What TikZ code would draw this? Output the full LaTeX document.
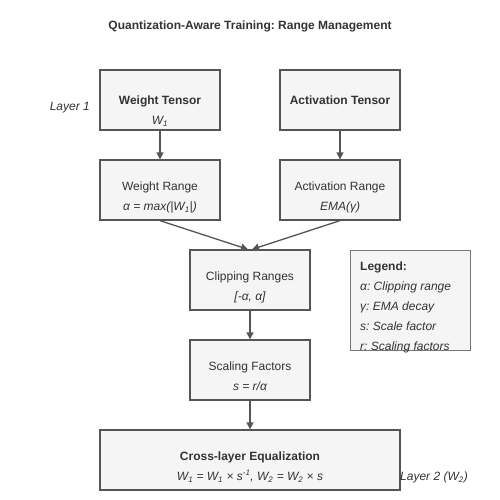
\documentclass[tikz,border=0pt]{standalone}
\usepackage{fontspec}
\setmainfont{Liberation Sans}
\usetikzlibrary{arrows.meta}
\definecolor{boxfill}{HTML}{F5F5F5}
\definecolor{boxline}{HTML}{555555}
\definecolor{txt}{HTML}{333333}
\frenchspacing
\begin{document}
\begin{tikzpicture}[x=1pt,y=-1pt,
  stage/.style={draw=boxline,fill=boxfill,line width=1.3pt,minimum width=120pt,minimum height=60pt,inner sep=0pt},
  lbl/.style={text=txt,font=\fontsize{12}{14}\selectfont,inner sep=0pt,anchor=base,yshift=-4.3pt},
  hd/.style={lbl,font=\fontsize{12}{14}\selectfont\bfseries},
  eq/.style={lbl,font=\fontsize{12}{14}\selectfont\itshape},
  flow/.style={draw=boxline,line width=1.3pt,-{Triangle[length=7pt,width=7pt]}}]
\useasboundingbox[fill=white] (0,0) rectangle (500,500);
\node[hd] (title) at (250,25) {Quantization-Aware Training: Range Management};
% boxes
\node[stage] (wt) at (160,100) {};
\node[stage] (at) at (340,100) {};
\node[stage] (wr) at (160,190) {};
\node[stage] (ar) at (340,190) {};
\node[stage] (cr) at (250,280) {};
\node[stage] (sf) at (250,370) {};
\node[stage,minimum width=300pt] (cle) at (250,460) {};
\node[draw=boxline!80,fill=boxfill,line width=1pt,minimum width=120pt,minimum height=100pt] (leg) at (410,300) {};
% texts
\node[hd] at (160,100) {Weight Tensor};
\node[eq] at (160,120) {W\textsubscript{1}};
\node[hd] at (340,100) {Activation Tensor};
\node[lbl] at (160,186) {Weight Range};
\node[eq] at (160,206) {α = max(|W\textsubscript{1}|)};
\node[lbl] at (340,186) {Activation Range};
\node[eq] at (340,206) {EMA(γ)};
\node[lbl] at (250,276) {Clipping Ranges};
\node[eq] at (250,296) {[-α, α]};
\node[lbl] at (250,366) {Scaling Factors};
\node[eq] at (250,386) {s = r/α};
\node[hd] at (250,456) {Cross-layer Equalization};
\node[eq] at (250,476) {W\textsubscript{1} = W\textsubscript{1} × s\textsuperscript{-1}, W\textsubscript{2} = W\textsubscript{2} × s};
\node[eq,anchor=base east] (l1) at (90,106) {Layer 1};
\node[eq,anchor=base west] (l2) at (400,476) {Layer 2 (W\textsubscript{2})};
% legend
\node[hd,anchor=base west] at (360,266) {Legend:};
\foreach \t [count=\i] in {α: Clipping range,γ: EMA decay,s: Scale factor,r: Scaling factors}
  \node[eq,anchor=base west] at (360,{266+20*\i}) {\t};
% arrows
\draw[flow] (wt.south) -- (wr.north);
\draw[flow] (at.south) -- (ar.north);
\draw[flow] (wr.south) -- ([xshift=-2pt]cr.north);
\draw[flow] (ar.south) -- ([xshift=2pt]cr.north);
\draw[flow] (cr.south) -- (sf.north);
\draw[flow] (sf.south) -- (cle.north);
\end{tikzpicture}
\end{document}
